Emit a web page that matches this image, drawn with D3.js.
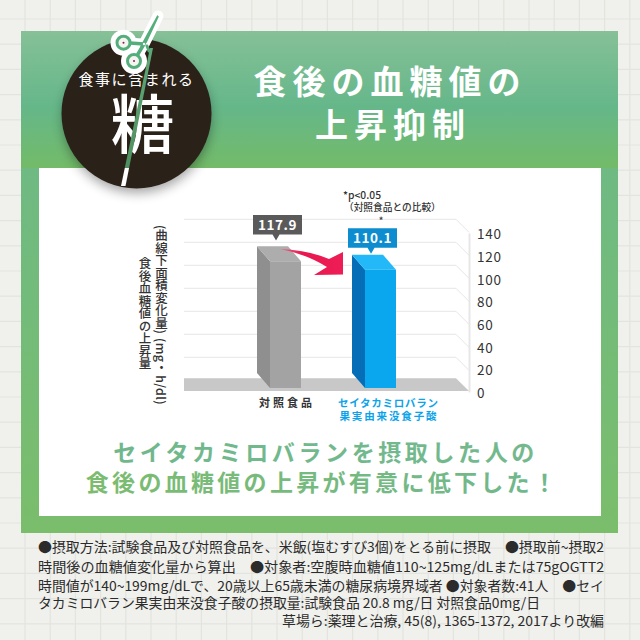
<!DOCTYPE html>
<html lang="ja"><head><meta charset="utf-8">
<script src="https://cdnjs.cloudflare.com/ajax/libs/d3/7.8.5/d3.min.js"></script>
<style>html,body{margin:0;padding:0;background:#f0f0ec}svg{display:block}text{font-family:"Noto Sans CJK JP","Noto Sans",sans-serif}</style>
</head><body><svg id="c" width="640" height="640" viewBox="0 0 640 640"></svg>
<script>
const categories = ["対照食品", "セイタカミロバラン果実由来没食子酸"];
const categoryLines = [["対照食品"], ["セイタカミロバラン", "果実由来没食子酸"]];
const values = [117.9, 110.1];
const tickValues = [0, 20, 40, 60, 80, 100, 120, 140];
const footnotes = [
 "●摂取方法:試験食品及び対照食品を、米飯(塩むすび3個)をとる前に摂取　●摂取前~摂取2",
 "時間後の血糖値変化量から算出　●対象者:空腹時血糖値110~125mg/dLまたは75gOGTT2",
 "時間値が140~199mg/dLで、20歳以上65歳未満の糖尿病境界域者 ●対象者数:41人　●セイ",
 "タカミロバラン果実由来没食子酸の摂取量:試験食品 20.8 mg/日 対照食品0mg/日"];
const sourceNote = "草場ら:薬理と治療, 45(8), 1365-1372, 2017より改編";
const titleLines = ["食後の血糖値の", "上昇抑制"];
const messageLines = ["セイタカミロバランを摂取した人の", "食後の血糖値の上昇が有意に低下した！"];
const badgeSmall = "食事に含まれる", badgeBig = "糖";
const yTitleLines = ["(曲線下面積変化量)", "(mg・h/dl)", "食後血糖値の上昇量"];
const noteLines = ["*p<0.05", "（対照食品との比較）", "*"];

const svg = d3.select("#c");
const defs = svg.append("defs");
function grad(id, stops, x2=0, y2=1){
  const g = defs.append("linearGradient").attr("id",id).attr("x1",0).attr("y1",0).attr("x2",x2).attr("y2",y2);
  stops.forEach(s=>g.append("stop").attr("offset",s[0]).attr("stop-color",s[1]));
}
grad("hdr",[[0,"#86c097"],[.55,"#65b78a"],[1,"#73bb68"]]);
grad("side",[[0,"#6bb98c"],[1,"#7abd6b"]]);
grad("msg2",[[0,"#7cbc70"],[1,"#70b78f"]],1,0);
grad("msg1",[[0,"#70b88c"],[1,"#74b98e"]],1,0);
grad("arrow",[[0,"#e86a88"],[.35,"#e8174f"],[1,"#ee1d55"]],1,0);
grad("slit",[[0,"#5fa878"],[.869,"#4f9060"],[.87,"#ffffff"],[1,"#ffffff"]]);
const blur = defs.append("filter").attr("id","sh").attr("x","-30%").attr("y","-30%").attr("width","160%").attr("height","160%");
blur.append("feGaussianBlur").attr("stdDeviation",6);

// paper background with grid
svg.append("rect").attr("width",640).attr("height",640).attr("fill","#f0f0ec");
const gridG = svg.append("g").attr("stroke","#e3e3df").attr("stroke-width",1.2);
d3.range(25,640,25.2).forEach(x=>gridG.append("line").attr("x1",x).attr("x2",x).attr("y1",0).attr("y2",640));
d3.range(19,640,25.2).forEach(y=>gridG.append("line").attr("y1",y).attr("y2",y).attr("x1",0).attr("x2",640));

// panel
svg.append("rect").attr("x",21).attr("y",31).attr("width",597).attr("height",502).attr("fill","url(#side)");
svg.append("rect").attr("x",21).attr("y",31).attr("width",597).attr("height",137).attr("fill","url(#hdr)");
svg.append("rect").attr("x",39).attr("y",168).attr("width",562).attr("height",348).attr("fill","#fff");

// badge
svg.append("circle").attr("cx",137).attr("cy",119).attr("r",74).attr("fill","#000").attr("opacity",.36).attr("filter","url(#sh)");
svg.append("circle").attr("cx",136.5).attr("cy",113.5).attr("r",75).attr("fill","#2a2118");
svg.append("text").attr("x",136.5).attr("y",85).attr("text-anchor","middle").attr("fill","#fff")
  .attr("font-size",15).attr("letter-spacing",1.6).text(badgeSmall);
svg.append("text").attr("x",142.5).attr("y",148).attr("text-anchor","middle").attr("fill","#fff")
  .attr("font-size",64).attr("font-weight",500).text(badgeBig);
svg.append("path").attr("d","M150 48 L153 48 L125.5 186 L121 186 Z").attr("fill","url(#slit)");

// scissors
const sc = svg.append("g").attr("fill","none").attr("stroke-linecap","round");
const arms = "M123.5 42.7 L144 44 M134 61 L144 44 M144 44 L158 16";
sc.append("path").attr("d",arms).attr("stroke","#fff").attr("stroke-width",11);
[[123.5,42.7],[134,61]].forEach(c=>sc.append("circle").attr("cx",c[0]).attr("cy",c[1]).attr("r",8).attr("stroke","#fff").attr("stroke-width",10).attr("fill","#fff"));
sc.append("path").attr("d","M130 43 L144 44 M138 54 L144 44").attr("stroke","#54ae7c").attr("stroke-width",3.5);
sc.append("path").attr("d","M141 47 L146 42 L158 16 Z").attr("stroke","#54ae7c").attr("stroke-width",2).attr("fill","#54ae7c");
sc.append("path").attr("d","M147 46 L149 51").attr("stroke","#54ae7c").attr("stroke-width",3);
[[123.5,42.7],[134,61]].forEach(c=>{
  sc.append("circle").attr("cx",c[0]).attr("cy",c[1]).attr("r",6.5).attr("stroke","#54ae7c").attr("stroke-width",3).attr("fill","#f4f4f0");
  sc.append("circle").attr("cx",c[0]).attr("cy",c[1]).attr("r",1).attr("fill","#8a2050");
});
svg.append("circle").attr("cx",144).attr("cy",44).attr("r",1.2).attr("fill","#fff");

// title
svg.selectAll(".title").data(titleLines).join("text").attr("class","title")
  .attr("x",(d,i)=>i?393:390).attr("y",(d,i)=>i?137:94).attr("text-anchor","middle")
  .attr("fill","#fff").attr("font-size",33).attr("font-weight",700).attr("letter-spacing",6).text(d=>d);

// chart scales
const wallLeft = 184, wallRight = 456, depth = 13;
const yBack = d3.scaleLinear().domain([0,140]).range([380.3,219.3]);
const yFront = d3.scaleLinear().domain([0,140]).range([392,233]);
const barH = d3.scaleLinear().domain([0,140]).range([0,150.5]);
const x = d3.scalePoint().domain(categories).range([285.5,380.5]);
const barBase = 388, barW = 31, barDx = 13, barDy = 15;

// wall
const wall = svg.append("g").attr("stroke","#e6e6e6").attr("stroke-width",1).attr("fill","none");
tickValues.slice(1).forEach(t=>{
  wall.append("line").attr("x1",wallLeft).attr("x2",wallRight).attr("y1",yBack(t)).attr("y2",yBack(t));
  wall.append("line").attr("x1",wallRight).attr("x2",wallRight+depth).attr("y1",yBack(t)).attr("y2",yBack(t)+depth);
});
svg.append("path").attr("fill","#c8c8c8")
  .attr("d",`M${wallLeft} ${yBack(0)-2}H${wallRight}L${wallRight+depth} ${yBack(0)+10.7}H${wallLeft}Z`);

// axis
const ax = svg.append("g").attr("transform",`translate(${wallRight+depth},0)`)
  .call(d3.axisRight(yFront).tickValues(tickValues).tickSize(0).tickPadding(8));
ax.select(".domain").attr("stroke","#e6e6e6").attr("stroke-width",2);
ax.selectAll("text").attr("font-size",13.5).attr("fill","#333").attr("letter-spacing",.8).attr("dy","0.42em")
  .style("font-family",'"Noto Sans CJK JP"');

// bars
const palette = [
  {front:"#a3a3a3",side:"#8f8f8f",top:"#adadad",box:"#5a5a5a"},
  {front:"#0aa6ee",side:"#056eb6",top:"#23b8f8",box:"#0d8dcf"}];
const boxGap = [11.7, 7];
const bars = svg.selectAll(".bar").data(values).join("g").attr("class","bar");
bars.each(function(v,i){
  const g = d3.select(this), fl = x(categories[i])-barW/2, fr = fl+barW, top = barBase-barH(v);
  const poly = pts=>pts.map(p=>p.join(",")).join(" ");
  g.append("polygon").attr("fill",palette[i].side).attr("points",poly([[fl-barDx,top-barDy],[fl,top],[fl,barBase],[fl-barDx,barBase-barDy]]));
  g.append("polygon").attr("fill",palette[i].top).attr("points",poly([[fl-barDx,top-barDy],[fr-barDx,top-barDy],[fr,top],[fl,top]]));
  g.append("polygon").attr("fill",palette[i].front).attr("points",poly([[fl,top],[fr,top],[fr,barBase],[fl,barBase]]));
  const bBottom = top-barDy-boxGap[i], bx = fl-barDx-4, bw = 49, bh = 19.5, px = bx+bw*.47;
  g.append("path").attr("fill",palette[i].box)
    .attr("d",`M${bx} ${bBottom-bh}h${bw}v${bh}H${px+3.5}l-3.5 6l-3.5 -6H${bx}Z`);
  g.append("text").attr("x",bx+bw/2).attr("y",bBottom-4.5).attr("text-anchor","middle")
    .attr("fill","#fff").attr("font-size",13.5).attr("font-weight",700).attr("letter-spacing",.6).text(v.toFixed(1));
});

// arrow
svg.append("path").attr("fill","url(#arrow)")
  .attr("d","M280 249 Q308 250 329 259 L343 252 L343 274.5 L314 275 L327 267 Q306 254 280 249 Z");

// category labels
const labelX = [285.5, 388], labelColor = ["#333","#0ca3ea"], labelLen = [[53],[100,97]];
categoryLines.forEach((lines,i)=>lines.forEach((t,j)=>{
  svg.append("text").attr("x",labelX[i]).attr("y",407+j*13).attr("text-anchor","middle")
    .attr("fill",labelColor[i]).attr("font-size",i?10.5:11).attr("font-weight",700)
    .attr("textLength",labelLen[i][j]).attr("lengthAdjust","spacing").text(t);
}));

// y title
const vText=(t,xp,yp,ls)=>svg.append("text").attr("x",xp).attr("y",yp).attr("text-anchor","start")
  .attr("fill","#333").attr("font-size",12.5).attr("font-weight",500).attr("letter-spacing",ls)
  .style("writing-mode","vertical-rl").text(t);
vText(yTitleLines[0],161.5,225,0);
vText(yTitleLines[1],161.5,338,.3);
vText(yTitleLines[2],145,257,0);

// significance note
svg.append("text").attr("x",343).attr("y",198.5).attr("fill","#333").attr("font-size",10.3).attr("font-weight",500).text(noteLines[0]);
svg.append("text").attr("x",344).attr("y",211).attr("fill","#333").attr("font-size",9.7).attr("font-weight",500).text(noteLines[1]);
svg.append("text").attr("x",381).attr("y",225).attr("text-anchor","middle").attr("fill","#333").attr("font-size",11).text(noteLines[2]);

// message
svg.selectAll(".msg").data(messageLines).join("text").attr("class","msg")
  .attr("x",(d,i)=>i?322.5:325.5).attr("y",(d,i)=>i?491:461).attr("text-anchor","middle")
  .attr("fill",(d,i)=>i?"url(#msg2)":"url(#msg1)").attr("font-size",23).attr("font-weight",700)
  .attr("letter-spacing",(d,i)=>i?3.3:3.6).text(d=>d);

// footnotes
const fy = [552,571.5,590.5,608], fw = [566,566,566,502];
footnotes.forEach((t,i)=>svg.append("text").attr("x",38).attr("y",fy[i]).attr("fill","#2b2b2b")
  .attr("font-size",13.5).attr("textLength",fw[i]).attr("lengthAdjust","spacingAndGlyphs").text(t));
svg.append("text").attr("x",282).attr("y",626).attr("fill","#2b2b2b").attr("font-size",13.5)
  .attr("textLength",322).attr("lengthAdjust","spacingAndGlyphs").text(sourceNote);
</script></body></html>
